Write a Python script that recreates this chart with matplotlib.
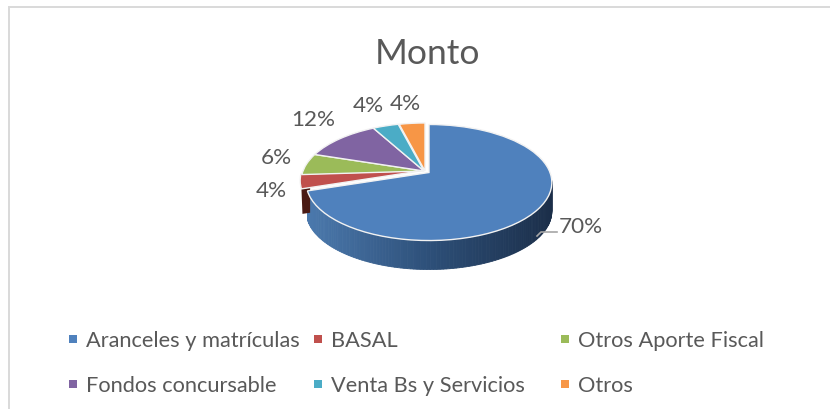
import numpy as np
import matplotlib
matplotlib.use("Agg")
import matplotlib.pyplot as plt
from matplotlib.transforms import Transform
from matplotlib.path import Path
from matplotlib.colors import to_rgb

categories = ["Aranceles y matrículas", "BASAL", "Otros Aporte Fiscal",
              "Fondos concursable", "Venta Bs y Servicios", "Otros"]
values = [70, 4, 6, 12, 4, 4]
colors = ["#4f81bd", "#c0504d", "#9bbb59", "#8064a2", "#4bacc6", "#f79646"]
title = "Monto"

TXT = "#595959"
plt.rcParams["font.family"] = ["Lato", "DejaVu Sans"]


class Tilt(Transform):
    """Maps the unit pie disc to pixels, with the near side drawn larger."""
    input_dims = output_dims = 2
    has_inverse = False
    is_separable = False

    def __init__(self, cx, cy, a=121.0, b=56.3, k=0.1724):
        super().__init__()
        self.p = (cx, cy, a, b, k)

    def transform_non_affine(self, xy):
        cx, cy, a, b, k = self.p
        xy = np.asarray(xy, float)
        s = 1.0 / (1.0 + k * xy[:, 1])
        return np.column_stack([cx + a * xy[:, 0] * s, cy - b * xy[:, 1] * s])

    def transform_path_non_affine(self, path):
        p = Path(path.vertices, path.codes).interpolated(1)
        return Path(self.transform_non_affine(p.vertices), p.codes)


def rim(tr, deg, r=1.0):
    t = np.radians(np.atleast_1d(deg))
    return tr.transform_non_affine(np.column_stack([r * np.cos(t), r * np.sin(t)]))


fig = plt.figure(figsize=(8.3, 4.1), dpi=100, facecolor="white")
ax = fig.add_axes([0, 0, 1, 1])

wedges, _ = ax.pie(values, colors=colors, startangle=90, counterclock=False,
                   wedgeprops=dict(edgecolor="#f2f2f2", linewidth=1.0, zorder=5))
ax.set_aspect("auto")
ax.set_xlim(0, 830)
ax.set_ylim(410, 0)
ax.axis("off")

centres = [(429, 173.5), (423, 171.5), (424, 172), (424, 172), (424, 172), (425, 172)]
trs = [Tilt(*c) for c in centres]
for w, tr in zip(wedges, trs):
    w.set_transform(tr + ax.transData)

# Depth of the disc: blue rim, shaded from left to right
depth = 29
blue = wedges[0]
angs = np.linspace(blue.theta1, -8, 120)
pts = rim(trs[0], angs)
left_c, mid_c, right_c = map(np.array, map(to_rgb, ["#4b79ad", "#2d4f78", "#1b2e49"]))
for i in range(len(pts) - 1):
    f = (pts[i, 0] - pts[0, 0]) / (pts[-1, 0] - pts[0, 0])
    c = left_c + (mid_c - left_c) * f * 2 if f < .5 else mid_c + (right_c - mid_c) * (f - .5) * 2
    p, q = pts[i], pts[i + 1]
    ax.fill([p[0], q[0], q[0], p[0]], [p[1], q[1], q[1] + depth, p[1] + depth],
            facecolor=c, edgecolor=c, lw=0.6, zorder=2)

# Cut face of the red slice
red = wedges[1]
a = rim(trs[1], red.theta2, 1.0)[0]
b = rim(trs[1], red.theta2, 0.94)[0]
ax.fill([a[0], b[0] + 1, b[0] + 1, a[0] + 1], [a[1], b[1], b[1] + 25, a[1] + 25],
        color="#4a1a14", lw=0, zorder=3)

ax.text(427.5, 54, title, ha="center", va="center", fontsize=25.5, color=TXT)

# Percentage labels
pct_pos = [(581, 227.5), (271, 191), (276, 158.5), (313, 119.5), (368, 106.5), (405, 104.5)]
for v, (x, y) in zip(values, pct_pos):
    ax.text(x, y, f"{v}%", ha="center", va="center", fontsize=16.2, color=TXT)
ax.plot([537, 541, 557], [237, 233, 233], color="#a6a6a6", lw=1.2, zorder=4)

# Legend
leg_x = [73, 318, 565, 73, 318, 565]
leg_y = [340, 340, 340, 385, 385, 385]
for name, c, x, y in zip(categories, colors, leg_x, leg_y):
    ax.scatter([x], [y], marker="s", s=30, color=c, linewidths=0)
    ax.text(x + 13, y + 1, name, ha="left", va="center", fontsize=15.7, color=TXT)

# Chart frame
ax.plot([9, 9, 830], [410, 8, 8], color="#d9d9d9", lw=1.4, solid_joinstyle="miter")

fig.savefig("out.png", dpi=100)
